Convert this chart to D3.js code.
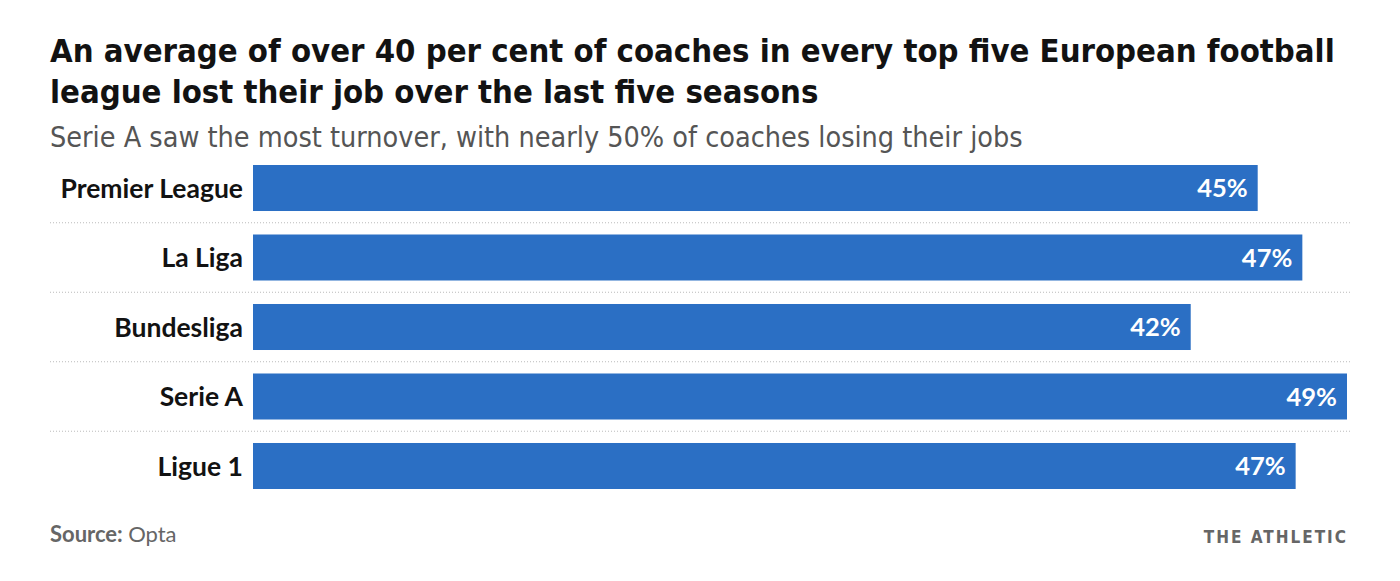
<!DOCTYPE html>
<html lang="en">
<head>
<meta charset="UTF-8">
<script src="https://cdn.jsdelivr.net/npm/d3@7"></script>
<title>Coach turnover</title>
<style>
    body { margin: 0; background: #fff; }
    .title { font-family: 'DejaVu Sans Condensed', sans-serif; font-weight: bold; font-size: 32.6px; fill: #121212; }
    .subtitle { font-family: 'DejaVu Sans Condensed', sans-serif; font-size: 28.5px; fill: #555; }
    .league { font-family: Lato, sans-serif; font-weight: bold; font-size: 26.5px; fill: #121212; }
    .value { font-family: Lato, sans-serif; font-weight: bold; font-size: 25.5px; fill: #fff; }
    .source { font-family: Lato, sans-serif; font-size: 22px; fill: #666; }
    .brand { font-family: 'DejaVu Sans Condensed', sans-serif; font-weight: bold; font-size: 17px; fill: #666; letter-spacing: 2px; }
</style>
</head>
<body>
<svg id="chart"></svg>
<script>
    const leagues = ["Premier League", "La Liga", "Bundesliga", "Serie A", "Ligue 1"];
    const sackedPct = [45, 47, 42, 49, 46.7];

    const width = 1400, height = 581;
    const svg = d3.select("#chart").attr("width", width).attr("height", height);

    svg.append("text").attr("class", "title").attr("x", 50).attr("y", 62)
        .text("An average of over 40 per cent of coaches in every top five European football");
    svg.append("text").attr("class", "title").attr("x", 50).attr("y", 103)
        .text("league lost their job over the last five seasons");
    svg.append("text").attr("class", "subtitle").attr("x", 50).attr("y", 147)
        .text("Serie A saw the most turnover, with nearly 50% of coaches losing their jobs");

    const x = d3.scaleLinear()
        .domain([0, d3.max(sackedPct)])
        .range([253, 1347]);
    const y = d3.scaleBand()
        .domain(leagues)
        .range([165, 489])
        .paddingInner(0.338)
        .paddingOuter(0);

    const data = leagues.map((l, i) => ({ league: l, value: sackedPct[i] }));

    // dotted separators between rows
    svg.selectAll("line.sep")
        .data(leagues.slice(1))
        .enter()
        .append("line")
        .attr("class", "sep")
        .attr("x1", 50).attr("x2", 1350)
        .attr("y1", d => y(d) - y.step() * y.paddingInner() / 2)
        .attr("y2", d => y(d) - y.step() * y.paddingInner() / 2)
        .attr("stroke", "#bbb")
        .attr("stroke-width", 1)
        .attr("stroke-dasharray", "1,2");

    svg.selectAll("rect.bar")
        .data(data)
        .enter()
        .append("rect")
        .attr("class", "bar")
        .attr("x", x(0))
        .attr("y", d => y(d.league))
        .attr("width", d => x(d.value) - x(0))
        .attr("height", y.bandwidth())
        .attr("fill", "#2b6fc4");

    svg.selectAll("text.league")
        .data(data)
        .enter()
        .append("text")
        .attr("class", "league")
        .attr("x", 243)
        .attr("y", d => y(d.league) + y.bandwidth() / 2)
        .attr("dy", "0.36em")
        .attr("text-anchor", "end")
        .text(d => d.league);

    svg.selectAll("text.value")
        .data(data)
        .enter()
        .append("text")
        .attr("class", "value")
        .attr("x", d => x(d.value) - 10)
        .attr("y", d => y(d.league) + y.bandwidth() / 2)
        .attr("dy", "0.36em")
        .attr("text-anchor", "end")
        .text(d => Math.round(d.value) + "%");

    const src = svg.append("text").attr("class", "source").attr("x", 50).attr("y", 542);
    src.append("tspan").attr("font-weight", "bold").text("Source: ");
    src.append("tspan").text("Opta");

    svg.append("text").attr("class", "brand").attr("x", 1348).attr("y", 543)
        .attr("text-anchor", "end")
        .text("THE ATHLETIC");
</script>
</body>
</html>
